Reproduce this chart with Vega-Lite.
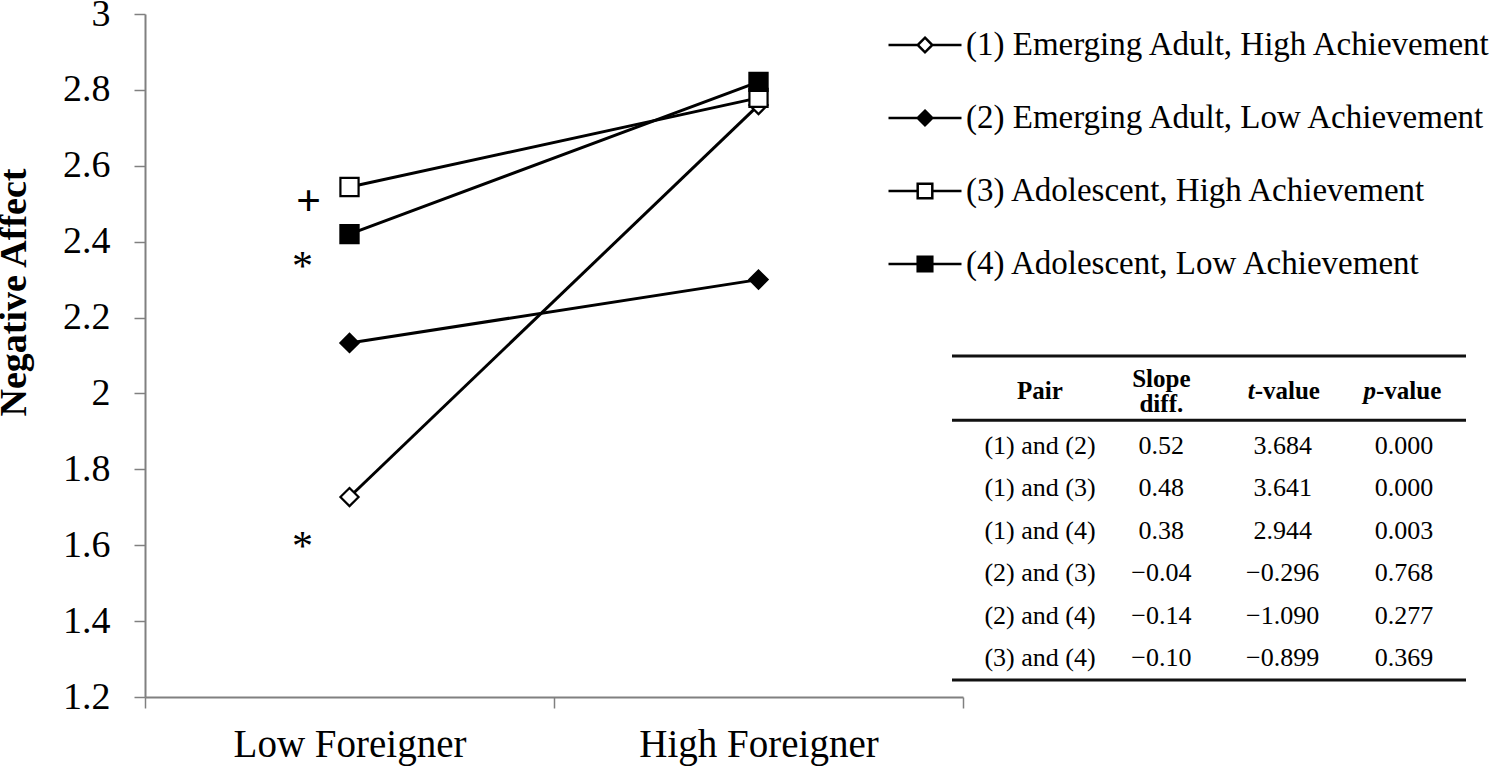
{
  "$schema": "https://vega.github.io/schema/vega-lite/v6.json",
  "width": 818,
  "height": 683,
  "autosize": {"type": "none"},
  "padding": {"left": 145, "top": 14, "right": 537, "bottom": 69},
  "background": "white",
  "config": {"font": "Liberation Serif", "view": {"stroke": null}},
  "datasets": {
    "means": [
      {"group": "(1) Emerging Adult, High Achievement", "foreigner": "Low Foreigner", "value": 1.727},
      {"group": "(1) Emerging Adult, High Achievement", "foreigner": "High Foreigner", "value": 2.76},
      {"group": "(2) Emerging Adult, Low Achievement", "foreigner": "Low Foreigner", "value": 2.133},
      {"group": "(2) Emerging Adult, Low Achievement", "foreigner": "High Foreigner", "value": 2.30},
      {"group": "(3) Adolescent, High Achievement", "foreigner": "Low Foreigner", "value": 2.544},
      {"group": "(3) Adolescent, High Achievement", "foreigner": "High Foreigner", "value": 2.779},
      {"group": "(4) Adolescent, Low Achievement", "foreigner": "Low Foreigner", "value": 2.42},
      {"group": "(4) Adolescent, Low Achievement", "foreigner": "High Foreigner", "value": 2.821}
    ],
    "annotations": [
      {"foreigner": "Low Foreigner", "value": 2.51, "symbol": "+"},
      {"foreigner": "Low Foreigner", "value": 2.346, "symbol": "*"},
      {"foreigner": "Low Foreigner", "value": 1.608, "symbol": "*"}
    ],
    "slopes": [
      {"row": 1, "pair": "(1) and (2)", "slope": "0.52", "t": "3.684", "p": "0.000"},
      {"row": 2, "pair": "(1) and (3)", "slope": "0.48", "t": "3.641", "p": "0.000"},
      {"row": 3, "pair": "(1) and (4)", "slope": "0.38", "t": "2.944", "p": "0.003"},
      {"row": 4, "pair": "(2) and (3)", "slope": "−0.04", "t": "−0.296", "p": "0.768"},
      {"row": 5, "pair": "(2) and (4)", "slope": "−0.14", "t": "−1.090", "p": "0.277"},
      {"row": 6, "pair": "(3) and (4)", "slope": "−0.10", "t": "−0.899", "p": "0.369"}
    ],
    "headers": [
      {"col": "pair", "part": "whole", "label": "Pair"},
      {"col": "slope", "part": "multi", "label": "Slope\ndiff."},
      {"col": "t", "part": "italic", "label": "t"},
      {"col": "t", "part": "rest", "label": "-value"},
      {"col": "p", "part": "italic", "label": "p"},
      {"col": "p", "part": "rest", "label": "-value"}
    ]
  },
  "layer": [
    {
      "data": {"name": "means"},
      "layer": [
        {
          "mark": {"type": "line", "color": "black", "strokeWidth": 3},
          "encoding": {
            "x": {
              "field": "foreigner", "type": "nominal", "sort": ["Low Foreigner", "High Foreigner"],
              "scale": {"type": "band", "paddingInner": 0, "paddingOuter": 0},
              "axis": {
                "title": null, "labelAngle": 0, "tickBand": "extent", "labelFontSize": 39, "labelLimit": 0,
                "labelColor": "black", "domainColor": "#808080", "domainWidth": 2,
                "tickColor": "#808080", "tickWidth": 1.5, "tickSize": 11, "labelPadding": 17, "grid": false
              }
            },
            "y": {
              "field": "value", "type": "quantitative",
              "scale": {"domain": [1.2, 3], "nice": false, "zero": false},
              "axis": {
                "values": [1.2, 1.4, 1.6, 1.8, 2, 2.2, 2.4, 2.6, 2.8, 3], "format": "~g", "grid": false,
                "title": "Negative Affect", "titleFontSize": 38, "titleFontWeight": "bold", "titleColor": "black",
                "titleAngle": 270, "titleX": -131, "titleY": 278, "titleAlign": "center", "titleBaseline": "middle",
                "labelFontSize": 38, "labelColor": "black", "labelPadding": 24, "tickSize": 11,
                "domainColor": "#808080", "domainWidth": 2, "tickColor": "#808080", "tickWidth": 1.5
              }
            },
            "detail": {"field": "group"}
          }
        },
        {
          "mark": {"type": "point", "filled": true, "stroke": "black", "strokeWidth": 2.2, "size": 330, "opacity": 1},
          "encoding": {
            "x": {"field": "foreigner", "type": "nominal", "sort": ["Low Foreigner", "High Foreigner"], "scale": {"type": "band", "paddingInner": 0, "paddingOuter": 0}},
            "y": {"field": "value", "type": "quantitative", "scale": {"domain": [1.2, 3], "nice": false, "zero": false}},
            "shape": {
              "field": "group", "type": "nominal",
              "scale": {
                "domain": ["(1) Emerging Adult, High Achievement", "(2) Emerging Adult, Low Achievement", "(3) Adolescent, High Achievement", "(4) Adolescent, Low Achievement"],
                "range": ["diamond", "diamond", "square", "square"]
              },
              "legend": null
            },
            "fill": {
              "field": "group", "type": "nominal",
              "scale": {
                "domain": ["(1) Emerging Adult, High Achievement", "(2) Emerging Adult, Low Achievement", "(3) Adolescent, High Achievement", "(4) Adolescent, Low Achievement"],
                "range": ["white", "black", "white", "black"]
              },
              "legend": null
            }
          }
        },
        {
          "data": {"name": "annotations"},
          "transform": [{"filter": "datum.symbol == '+'"}],
          "mark": {"type": "text", "fontSize": 44, "fontWeight": "bold", "dx": -41, "dy": 2, "baseline": "middle", "align": "center", "color": "black"},
          "encoding": {
            "x": {"field": "foreigner", "type": "nominal", "sort": ["Low Foreigner", "High Foreigner"], "scale": {"type": "band", "paddingInner": 0, "paddingOuter": 0}},
            "y": {"field": "value", "type": "quantitative", "scale": {"domain": [1.2, 3], "nice": false, "zero": false}},
            "text": {"field": "symbol"}
          }
        },
        {
          "data": {"name": "annotations"},
          "transform": [{"filter": "datum.symbol == '*'"}],
          "mark": {"type": "text", "fontSize": 42, "dx": -47, "dy": 5, "baseline": "middle", "align": "center", "color": "black"},
          "encoding": {
            "x": {"field": "foreigner", "type": "nominal", "sort": ["Low Foreigner", "High Foreigner"], "scale": {"type": "band", "paddingInner": 0, "paddingOuter": 0}},
            "y": {"field": "value", "type": "quantitative", "scale": {"domain": [1.2, 3], "nice": false, "zero": false}},
            "text": {"field": "symbol"}
          }
        }
      ]
    },
    {
      "data": {"values": []},
      "mark": {"type": "point", "filled": false, "stroke": "black", "strokeWidth": 2.5, "opacity": 1},
      "encoding": {
        "shape": {
          "field": "group", "type": "nominal",
          "scale": {
            "domain": ["(1) Emerging Adult, High Achievement", "(2) Emerging Adult, Low Achievement", "(3) Adolescent, High Achievement", "(4) Adolescent, Low Achievement"],
            "range": [
              "M-1,0L-0.2,0M0.2,0L1,0M0,-0.2L0.2,0L0,0.2L-0.2,0Z",
              "M-1,0L-0.2,0M0.2,0L1,0M0,-0.2L0.2,0L0,0.2L-0.2,0ZM0,-0.14L0.14,0L0,0.14L-0.14,0ZM0,-0.08L0.08,0L0,0.08L-0.08,0ZM0,-0.03L0.03,0L0,0.03L-0.03,0ZM-0.2,0L0.2,0",
              "M-1,0L-0.2,0M0.2,0L1,0M-0.2,-0.2L0.2,-0.2L0.2,0.2L-0.2,0.2Z",
              "M-1,0L-0.2,0M0.2,0L1,0M-0.2,-0.2L0.2,-0.2L0.2,0.2L-0.2,0.2ZM-0.14,-0.14L0.14,-0.14L0.14,0.14L-0.14,0.14ZM-0.08,-0.08L0.08,-0.08L0.08,0.08L-0.08,0.08ZM-0.03,-0.03L0.03,-0.03L0.03,0.03L-0.03,0.03ZM-0.2,0L0.2,0"
            ]
          },
          "legend": {
            "orient": "none", "legendX": 742, "legendY": -7, "title": null,
            "labelFontSize": 33, "labelColor": "black", "labelFont": "Liberation Serif", "labelLimit": 0,
            "symbolSize": 5329, "symbolStrokeWidth": 2.5, "symbolStrokeColor": "black",
            "labelOffset": 3, "rowPadding": 18, "padding": 0, "labelBaseline": "middle",
            "encode": {
              "symbols": {
                "stroke": {"value": "black"},
                "strokeWidth": {"value": 2.5},
                "size": {"value": 5329}
              }
            }
          }
        }
      }
    },
    {
      "layer": [
        {
          "data": {"name": "slopes"},
          "transform": [{"fold": ["pair", "slope", "t", "p"], "as": ["col", "text"]}],
          "mark": {"type": "text", "fontSize": 26, "baseline": "middle", "align": "center", "color": "black"},
          "encoding": {
            "x": {"field": "col", "type": "nominal", "scale": {"type": "point", "domain": ["pair", "slope", "t", "p"], "range": [895, 1259], "padding": 0}, "axis": null},
            "y": {"field": "row", "type": "quantitative", "scale": {"domain": [1, 6], "range": [432, 644], "zero": false, "nice": false}, "axis": null},
            "text": {"field": "text"}
          }
        },
        {
          "data": {"name": "headers"},
          "transform": [{"filter": "datum.part == 'whole'"}],
          "mark": {"type": "text", "fontSize": 25, "fontWeight": "bold", "baseline": "middle", "align": "center", "color": "black"},
          "encoding": {
            "x": {"field": "col", "type": "nominal", "scale": {"type": "point", "domain": ["pair", "slope", "t", "p"], "range": [895, 1259], "padding": 0}, "axis": null},
            "y": {"datum": -0.3, "type": "quantitative", "scale": {"domain": [1, 6], "range": [432, 644], "zero": false, "nice": false}, "axis": null},
            "text": {"field": "label"}
          }
        },
        {
          "data": {"name": "headers"},
          "transform": [{"filter": "datum.part == 'multi'"}],
          "mark": {"type": "text", "fontSize": 25, "fontWeight": "bold", "baseline": "middle", "align": "center", "color": "black", "lineBreak": "\n", "lineHeight": 25, "dy": -12},
          "encoding": {
            "x": {"field": "col", "type": "nominal", "scale": {"type": "point", "domain": ["pair", "slope", "t", "p"], "range": [895, 1259], "padding": 0}, "axis": null},
            "y": {"datum": -0.3, "type": "quantitative", "scale": {"domain": [1, 6], "range": [432, 644], "zero": false, "nice": false}, "axis": null},
            "text": {"field": "label"}
          }
        },
        {
          "data": {"name": "headers"},
          "transform": [{"filter": "datum.part == 'italic'"}],
          "mark": {"type": "text", "fontSize": 25, "fontWeight": "bold", "fontStyle": "italic", "baseline": "middle", "align": "right", "dx": -28, "color": "black"},
          "encoding": {
            "x": {"field": "col", "type": "nominal", "scale": {"type": "point", "domain": ["pair", "slope", "t", "p"], "range": [895, 1259], "padding": 0}, "axis": null},
            "y": {"datum": -0.3, "type": "quantitative", "scale": {"domain": [1, 6], "range": [432, 644], "zero": false, "nice": false}, "axis": null},
            "text": {"field": "label"}
          }
        },
        {
          "data": {"name": "headers"},
          "transform": [{"filter": "datum.part == 'rest'"}],
          "mark": {"type": "text", "fontSize": 25, "fontWeight": "bold", "baseline": "middle", "align": "left", "dx": -28, "color": "black"},
          "encoding": {
            "x": {"field": "col", "type": "nominal", "scale": {"type": "point", "domain": ["pair", "slope", "t", "p"], "range": [895, 1259], "padding": 0}, "axis": null},
            "y": {"datum": -0.3, "type": "quantitative", "scale": {"domain": [1, 6], "range": [432, 644], "zero": false, "nice": false}, "axis": null},
            "text": {"field": "label"}
          }
        },
        {
          "data": {"values": [{}]},
          "mark": {"type": "rule", "strokeWidth": 3, "color": "#111111"},
          "encoding": {
            "x": {"datum": 0, "type": "quantitative", "scale": {"domain": [0, 1], "range": [807, 1321], "nice": false, "zero": false}, "axis": null},
            "x2": {"datum": 1},
            "y": {"datum": -1.12, "type": "quantitative", "scale": {"domain": [1, 6], "range": [432, 644], "zero": false, "nice": false}, "axis": null}
          }
        },
        {
          "data": {"values": [{}]},
          "mark": {"type": "rule", "strokeWidth": 3, "color": "#111111"},
          "encoding": {
            "x": {"datum": 0, "type": "quantitative", "scale": {"domain": [0, 1], "range": [807, 1321], "nice": false, "zero": false}, "axis": null},
            "x2": {"datum": 1},
            "y": {"datum": 0.39, "type": "quantitative", "scale": {"domain": [1, 6], "range": [432, 644], "zero": false, "nice": false}, "axis": null}
          }
        },
        {
          "data": {"values": [{}]},
          "mark": {"type": "rule", "strokeWidth": 3, "color": "#111111"},
          "encoding": {
            "x": {"datum": 0, "type": "quantitative", "scale": {"domain": [0, 1], "range": [807, 1321], "nice": false, "zero": false}, "axis": null},
            "x2": {"datum": 1},
            "y": {"datum": 6.52, "type": "quantitative", "scale": {"domain": [1, 6], "range": [432, 644], "zero": false, "nice": false}, "axis": null}
          }
        }
      ],
      "resolve": {"scale": {"x": "independent"}}
    }
  ],
  "resolve": {"scale": {"x": "independent", "y": "independent", "shape": "independent", "fill": "independent"}}
}
